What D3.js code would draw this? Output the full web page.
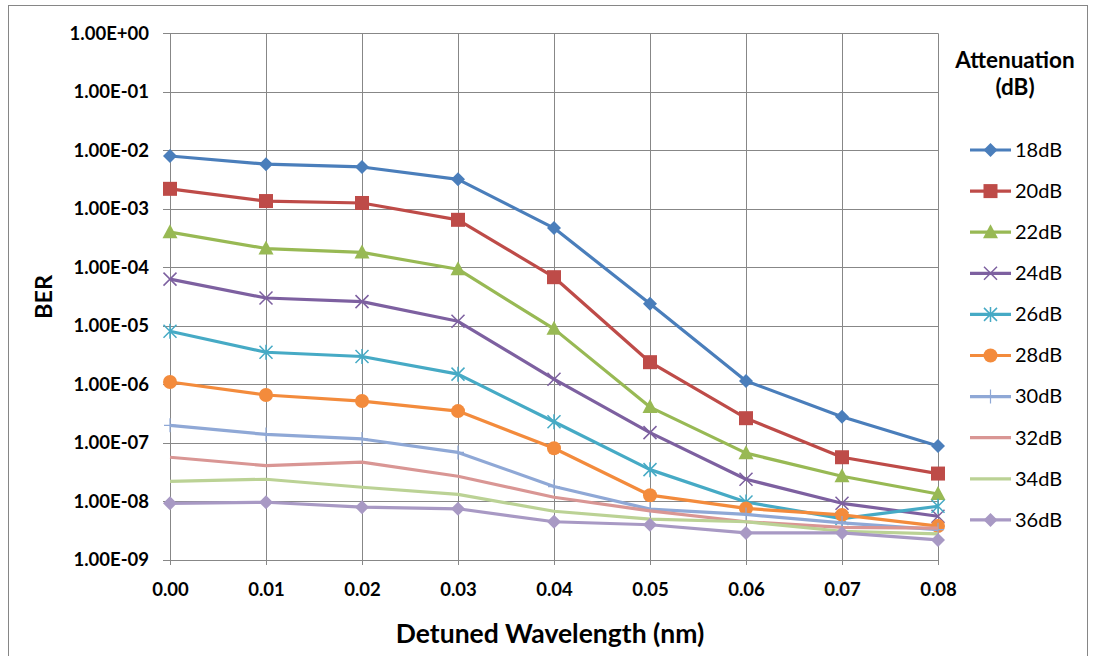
<!DOCTYPE html>
<html><head><meta charset="utf-8">
<script src="https://cdn.jsdelivr.net/npm/d3@7"></script>
<style>body{margin:0;background:#fff}svg{display:block}text{font-family:Lato,"Open Sans",sans-serif}</style>
</head><body><svg id="c" width="1096" height="656"></svg>
<script>
const xValues = [0.00,0.01,0.02,0.03,0.04,0.05,0.06,0.07,0.08];
const xTickLabels = ["0.00","0.01","0.02","0.03","0.04","0.05","0.06","0.07","0.08"];
const yTickValues = [1,1e-1,1e-2,1e-3,1e-4,1e-5,1e-6,1e-7,1e-8,1e-9];
const yTickLabels = ["1.00E+00","1.00E-01","1.00E-02","1.00E-03","1.00E-04","1.00E-05","1.00E-06","1.00E-07","1.00E-08","1.00E-09"];
const seriesNames = ["18dB","20dB","22dB","24dB","26dB","28dB","30dB","32dB","34dB","36dB"];
const ber18 = [8.0e-3,5.8e-3,5.2e-3,3.2e-3,4.7e-4,2.4e-5,1.15e-6,2.8e-7,8.9e-8];
const ber20 = [2.2e-3,1.36e-3,1.26e-3,6.5e-4,6.8e-5,2.4e-6,2.65e-7,5.7e-8,3.0e-8];
const ber22 = [4.0e-4,2.1e-4,1.8e-4,9.3e-5,8.9e-6,4.1e-7,6.7e-8,2.7e-8,1.34e-8];
const ber24 = [6.3e-5,3.0e-5,2.6e-5,1.2e-5,1.23e-6,1.5e-7,2.4e-8,9.3e-9,5.6e-9];
const ber26 = [8.1e-6,3.55e-6,3.0e-6,1.5e-6,2.3e-7,3.5e-8,9.8e-9,5.1e-9,8.3e-9];
const ber28 = [1.1e-6,6.6e-7,5.2e-7,3.5e-7,8.1e-8,1.28e-8,7.6e-9,5.9e-9,3.8e-9];
const ber30 = [2.0e-7,1.4e-7,1.17e-7,6.9e-8,1.8e-8,7.4e-9,6.0e-9,4.3e-9,3.3e-9];
const ber32 = [5.7e-8,4.1e-8,4.7e-8,2.7e-8,1.18e-8,6.9e-9,4.5e-9,3.6e-9,3.5e-9];
const ber34 = [2.2e-8,2.4e-8,1.75e-8,1.32e-8,6.8e-9,5.0e-9,4.5e-9,3.1e-9,2.8e-9];
const ber36 = [9.3e-9,9.7e-9,8.0e-9,7.5e-9,4.5e-9,4.0e-9,2.9e-9,2.9e-9,2.2e-9];
const seriesValues = [ber18,ber20,ber22,ber24,ber26,ber28,ber30,ber32,ber34,ber36];
const colors = ["#4A7EBB","#BE4B48","#98B954","#7D60A0","#46AAC5","#F38B3C","#8FA8D6","#D99694","#BBD295","#A899C4"];
const markers = ["diamond","square","triangle","x","star","circle","plus","none","none","diamond"];

const svg = d3.select("#c");
svg.append("rect").attr("x",8.5).attr("y",5.5).attr("width",1079).attr("height",670)
  .attr("fill","#fff").attr("stroke","#868686").attr("stroke-width",1);

const L=170, R=938, T=33.3, B=560;
const x = d3.scaleLinear().domain([0,0.08]).range([L,R]);
const y = d3.scaleLog().domain([1e-9,1]).range([B,T]);

// grid
const g = svg.append("g");
g.selectAll("line.h").data(yTickValues).join("line")
  .attr("x1",L-7).attr("x2",R).attr("y1",d=>Math.round(y(d))+0.5).attr("y2",d=>Math.round(y(d))+0.5)
  .attr("stroke","#878787").attr("stroke-width",1);
g.selectAll("line.v").data(xValues).join("line")
  .attr("y1",T).attr("y2",B+5).attr("x1",d=>Math.round(x(d))+0.5).attr("x2",d=>Math.round(x(d))+0.5)
  .attr("stroke","#878787").attr("stroke-width",1);

// axes
const yAxis = d3.axisLeft(y).tickValues(yTickValues).tickFormat((d,i)=>yTickLabels[i]).tickSize(0).tickPadding(21);
const ya = svg.append("g").attr("transform",`translate(${L},0)`).call(yAxis);
ya.select(".domain").remove();
ya.selectAll("text").attr("font-size",18.5).attr("font-weight","bold").attr("fill","#000").attr("dy","0.32em");

const xAxis = d3.axisBottom(x).tickValues(xValues).tickFormat((d,i)=>xTickLabels[i]).tickSize(0).tickPadding(0);
const xa = svg.append("g").attr("transform",`translate(0,${B})`).call(xAxis);
xa.select(".domain").remove();
xa.selectAll("text").attr("font-size",18.5).attr("font-weight","bold").attr("fill","#000").attr("y",36).attr("dy",0);

svg.append("text").attr("x",550).attr("y",643).attr("text-anchor","middle")
  .attr("font-size",26.5).attr("font-weight","bold").text("Detuned Wavelength (nm)");
svg.append("text").attr("transform","translate(52,297) rotate(-90)").attr("text-anchor","middle")
  .attr("font-size",23.5).attr("font-weight","bold").text("BER");

function drawMarker(sel, type, color, cx, cy, scale){
  const s = scale||1;
  if(type==="diamond"){
    sel.append("path").attr("d",`M${cx},${cy-7*s}L${cx+7*s},${cy}L${cx},${cy+7*s}L${cx-7*s},${cy}Z`).attr("fill",color);
  } else if(type==="square"){
    sel.append("rect").attr("x",cx-7*s).attr("y",cy-7*s).attr("width",14*s).attr("height",14*s).attr("fill",color);
  } else if(type==="triangle"){
    sel.append("path").attr("d",`M${cx},${cy-8*s}L${cx+7.5*s},${cy+6*s}L${cx-7.5*s},${cy+6*s}Z`).attr("fill",color);
  } else if(type==="x"){
    sel.append("path").attr("d",`M${cx-6.5*s},${cy-6.5*s}L${cx+6.5*s},${cy+6.5*s}M${cx-6.5*s},${cy+6.5*s}L${cx+6.5*s},${cy-6.5*s}`)
      .attr("stroke",color).attr("stroke-width",1.5).attr("fill","none");
  } else if(type==="star"){
    sel.append("path").attr("d",`M${cx-6.5*s},${cy-6.5*s}L${cx+6.5*s},${cy+6.5*s}M${cx-6.5*s},${cy+6.5*s}L${cx+6.5*s},${cy-6.5*s}M${cx},${cy-7.5*s}L${cx},${cy+7.5*s}`)
      .attr("stroke",color).attr("stroke-width",1.5).attr("fill","none");
  } else if(type==="circle"){
    sel.append("circle").attr("cx",cx).attr("cy",cy).attr("r",7*s).attr("fill",color);
  } else if(type==="plus"){
    sel.append("path").attr("d",`M${cx-6*s},${cy}L${cx+6*s},${cy}M${cx},${cy-7*s}L${cx},${cy+7*s}`)
      .attr("stroke",color).attr("stroke-width",1.2).attr("fill","none");
  }
}

const line = d3.line().x((d,i)=>x(xValues[i])).y(d=>y(d));
const plot = svg.append("g");
seriesValues.forEach((vals,si)=>{
  const sg = plot.append("g");
  sg.append("path").datum(vals).attr("d",line).attr("fill","none")
    .attr("stroke",colors[si]).attr("stroke-width",3.2).attr("stroke-linejoin","round");
  vals.forEach((v,i)=>drawMarker(sg, markers[si], colors[si], x(xValues[i]), y(v)));
});

// legend
svg.append("text").attr("x",1015).attr("y",68).attr("text-anchor","middle").attr("font-size",22.5).attr("font-weight","bold").text("Attenuation");
svg.append("text").attr("x",1015).attr("y",95).attr("text-anchor","middle").attr("font-size",22.5).attr("font-weight","bold").text("(dB)");
seriesNames.forEach((n,i)=>{
  const ly = 150 + i*41.1;
  const lg = svg.append("g");
  lg.append("line").attr("x1",970).attr("x2",1011).attr("y1",ly).attr("y2",ly).attr("stroke",colors[i]).attr("stroke-width",3.2);
  drawMarker(lg, markers[i], colors[i], 990.5, ly);
  lg.append("text").attr("x",1015).attr("y",ly).attr("dy","0.34em").attr("font-size",20).text(n);
});
</script></body></html>
